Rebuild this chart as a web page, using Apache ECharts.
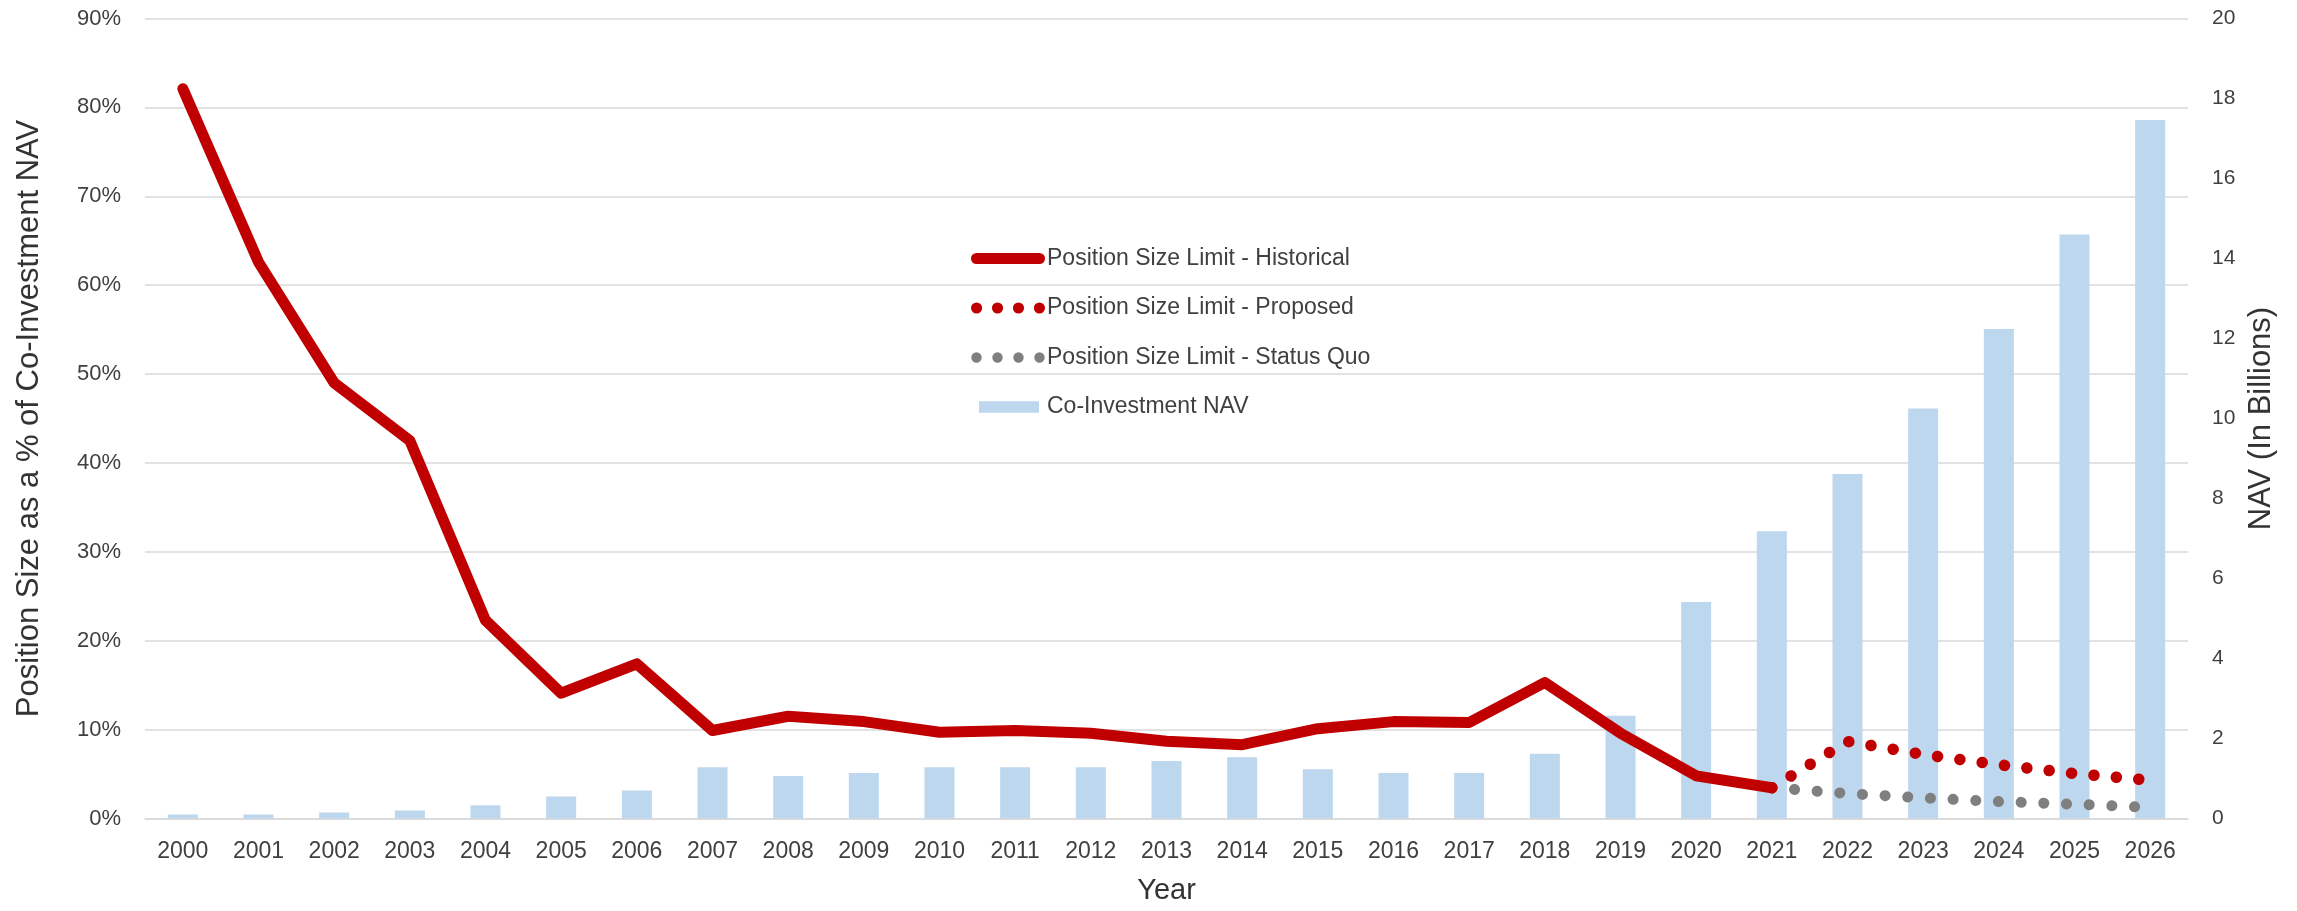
<!DOCTYPE html>
<html>
<head>
<meta charset="utf-8">
<title>Position Size Limit vs Co-Investment NAV</title>
<script src="https://cdn.jsdelivr.net/npm/echarts@6/dist/echarts.min.js"></script>
<style>
  html, body { margin: 0; padding: 0; background: #ffffff; }
  #chart { width: 2297px; height: 911px; }
</style>
</head>
<body>
<div id="chart"></div>
<script>
// Years on the category axis
const years = ['2000','2001','2002','2003','2004','2005','2006','2007','2008','2009',
  '2010','2011','2012','2013','2014','2015','2016','2017','2018','2019',
  '2020','2021','2022','2023','2024','2025','2026'];

// Co-Investment NAV, in billions (right axis)
const navBillions = [0.10, 0.10, 0.15, 0.20, 0.33, 0.55, 0.70, 1.28, 1.06, 1.14,
  1.28, 1.28, 1.28, 1.44, 1.53, 1.23, 1.14, 1.14, 1.62, 2.57,
  5.41, 7.18, 8.61, 10.25, 12.24, 14.60, 17.46];

// Position size limit as % of NAV, historical (2000-2021)
const limitHistorical = [82.1, 62.6, 49.0, 42.5, 22.3, 14.1, 17.4, 9.9, 11.5, 10.9,
  9.7, 9.9, 9.6, 8.7, 8.3, 10.1, 10.9, 10.8, 15.3, 9.6,
  4.8, 3.46];

// Projections starting at 2021
const limitProposed = [3.46, 8.67, 7.2, 6.05, 5.06, 4.3];
const limitStatusQuo = [3.46, 2.81, 2.32, 1.90, 1.61, 1.25];

// Axis ticks
const pctTicks = { min: 0, max: 90, interval: 10 };
const navTicks = { min: 0, max: 20, interval: 2 };

const projStart = years.indexOf('2021');
const pad = (arr, before) => Array(before).fill('-').concat(arr)
  .concat(Array(Math.max(0, years.length - before - arr.length)).fill('-'));

const FONT = '"Liberation Sans", Arial, sans-serif';
const RED = '#C00000';
const GREY = '#7F7F7F';
const BLUE = '#BDD7EE';

// Legend glyphs (the leading moves pin every glyph to a 74x12 box)
const BOX = 'M0,0M74,12';
const iconSolid = 'path://' + BOX + 'M5.5,0.5L68.5,0.5A5.5,5.5,0,0,1,68.5,11.5L5.5,11.5A5.5,5.5,0,0,1,5.5,0.5Z';
function dots(r) {
  let d = 'path://' + BOX;
  [5.5, 26.5, 47.5, 68.5].forEach(cx => {
    d += 'M' + (cx - r) + ',6A' + r + ',' + r + ',0,1,0,' + (cx + r) + ',6A' + r + ',' + r + ',0,1,0,' + (cx - r) + ',6Z';
  });
  return d;
}
const iconBar = 'path://' + BOX + 'M8,0.2H68V11.8H8Z';

const chart = echarts.init(document.getElementById('chart'), null, { renderer: 'canvas' });

chart.setOption({
  animation: false,
  backgroundColor: '#ffffff',
  textStyle: { fontFamily: FONT },
  grid: { left: 145, right: 109, top: 18.5, bottom: 92.5, containLabel: false },
  legend: {
    orient: 'vertical',
    left: 966,
    top: 242,
    itemWidth: 74,
    itemHeight: 12,
    itemGap: 26.5,
    selectedMode: false,
    itemStyle: { borderWidth: 0 },
    textStyle: { fontFamily: FONT, fontSize: 23, color: '#404040', padding: [0, 0, 0, -3] },
    data: [
      { name: 'Position Size Limit - Historical', icon: iconSolid, itemStyle: { color: RED } },
      { name: 'Position Size Limit - Proposed', icon: dots(5.6), itemStyle: { color: RED } },
      { name: 'Position Size Limit - Status Quo', icon: dots(5.2), itemStyle: { color: GREY } },
      { name: 'Co-Investment NAV', icon: iconBar, itemStyle: { color: BLUE } }
    ]
  },
  xAxis: {
    type: 'category',
    data: years,
    boundaryGap: true,
    name: 'Year',
    nameLocation: 'middle',
    nameGap: 58,
    nameTextStyle: { fontFamily: FONT, fontSize: 29, color: '#333333' },
    axisLine: { show: true, lineStyle: { color: '#D9D9D9', width: 1.5 } },
    axisTick: { show: false },
    axisLabel: { fontFamily: FONT, fontSize: 23, color: '#404040', margin: 22 }
  },
  yAxis: [
    {
      type: 'value',
      min: pctTicks.min, max: pctTicks.max, interval: pctTicks.interval,
      name: 'Position Size as a % of Co-Investment NAV',
      nameLocation: 'middle',
      nameGap: 100,
      nameTextStyle: { fontFamily: FONT, fontSize: 31, color: '#333333' },
      axisLine: { show: false },
      axisTick: { show: false },
      axisLabel: { fontFamily: FONT, fontSize: 22, color: '#404040', margin: 24, formatter: '{value}%' },
      splitLine: { show: true, lineStyle: { color: '#D9D9D9', width: 1.5 } }
    },
    {
      type: 'value',
      position: 'right',
      min: navTicks.min, max: navTicks.max, interval: navTicks.interval,
      name: 'NAV (In Billions)',
      nameLocation: 'middle',
      nameGap: 56,
      nameTextStyle: { fontFamily: FONT, fontSize: 31, color: '#333333' },
      axisLine: { show: false },
      axisTick: { show: false },
      axisLabel: { fontFamily: FONT, fontSize: 21, color: '#404040', margin: 24 },
      splitLine: { show: false }
    }
  ],
  series: [
    {
      name: 'Co-Investment NAV',
      type: 'bar',
      yAxisIndex: 1,
      data: navBillions,
      barWidth: 30,
      itemStyle: { color: BLUE },
      z: 1
    },
    {
      name: 'Position Size Limit - Status Quo',
      type: 'line',
      yAxisIndex: 0,
      data: pad(limitStatusQuo, projStart),
      showSymbol: false,
      symbol: 'none',
      lineStyle: { color: GREY, width: 11, type: [0.1, 22.6], cap: 'round', join: 'round' },
      itemStyle: { color: GREY },
      z: 3
    },
    {
      name: 'Position Size Limit - Proposed',
      type: 'line',
      yAxisIndex: 0,
      data: pad(limitProposed, projStart),
      showSymbol: false,
      symbol: 'none',
      lineStyle: { color: RED, width: 11.5, type: [0.1, 22.4], cap: 'round', join: 'round' },
      itemStyle: { color: RED },
      z: 4
    },
    {
      name: 'Position Size Limit - Historical',
      type: 'line',
      yAxisIndex: 0,
      data: pad(limitHistorical, 0),
      showSymbol: false,
      symbol: 'none',
      lineStyle: { color: RED, width: 11, cap: 'round', join: 'round' },
      itemStyle: { color: RED },
      z: 5
    }
  ]
});
</script>
</body>
</html>
